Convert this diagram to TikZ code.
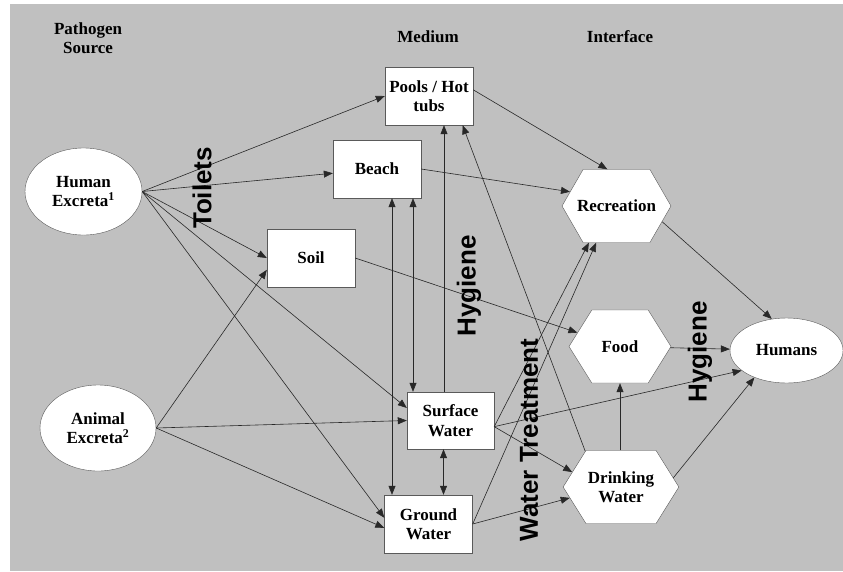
\documentclass[tikz,border=0pt]{standalone}
\usepackage{fontspec}
\setmainfont{Liberation Serif}
\newfontfamily\labelfont{Liberation Sans}
\usetikzlibrary{arrows.meta,shapes.geometric,shapes.symbols}
\definecolor{bggray}{RGB}{192,192,192}
\definecolor{linegray}{RGB}{40,40,40}
\definecolor{edgegray}{RGB}{90,90,90}

\begin{document}
\begin{tikzpicture}[x=1pt,y=-1pt,
  font=\fontsize{17}{19.5}\selectfont\bfseries,
  box/.style={draw=edgegray, fill=white, minimum width=88pt, minimum height=58pt, align=center, inner sep=2pt},
  blob/.style={draw=edgegray, fill=white, ellipse, minimum width=117pt, minimum height=87pt, align=center, inner sep=0pt},
  hexa/.style={draw=edgegray, fill=white, signal, signal to=east and west, signal pointer angle=116, minimum width=109pt, minimum height=73pt, align=center, inner sep=2pt},
  arr/.style={draw=linegray, line width=0.6pt, -{Triangle[length=9pt,width=7pt]}},
  darr/.style={arr, {Triangle[length=9pt,width=7pt]}-{Triangle[length=9pt,width=7pt]}},
  head/.style={align=center},
  lbl/.style={font=\labelfont\fontsize{26}{28}\selectfont\bfseries, rotate=90, inner sep=0pt}]

  \useasboundingbox (0,0) rectangle (843,571);
  \fill[bggray] (10,4) rectangle (843,571);

  % column heads
  \node[head] (srchd) at (88,38) {Pathogen\\Source};
  \node[head] (medhd) at (428,37) {Medium};
  \node[head] (inthd) at (620,37) {Interface};

  % sources
  \node[blob] (hex) at (83.5,191.5) {Human\\Excreta\textsuperscript{1}};
  \node[blob, minimum width=116pt, minimum height=86pt] (aex) at (98,428) {Animal\\Excreta\textsuperscript{2}};

  % media
  \node[box] (pools) at (429,96) {Pools / Hot\\tubs};
  \node[box] (beach) at (377,169) {Beach};
  \node[box] (soil) at (311,258) {Soil};
  \node[box, minimum width=87pt, minimum height=57pt] (sw) at (450.5,420.5) {Surface\\Water};
  \node[box] (gw) at (428.5,524) {Ground\\Water};

  % interfaces
  \node[hexa, signal pointer angle=120] (rec) at (616.5,206) {\makebox[62pt]{Recreation}};
  \node[hexa, minimum width=102pt] (food) at (620,346.5) {Food};
  \node[hexa] (dw) at (621,487) {Drinking\\Water};
  \node[blob, minimum width=113pt, minimum height=65pt] (hum) at (786.5,350.5) {Humans};

  % human excreta
  \draw[arr] (hex.east) -- (pools.west);
  \draw[arr] (hex.east) -- (beach);
  \draw[arr] (hex.east) -- (soil.west);
  \draw[arr] (hex.east) -- (sw.164);
  \draw[arr] (hex.east) -- (gw.172);
  % animal excreta
  \draw[arr] (aex.east) -- (soil.-165);
  \draw[arr] (aex.east) -- (sw.west);
  \draw[arr] (aex.east) -- (gw.-175);

  % between media
  \draw[darr] ([xshift=15pt]beach.south) -- ([xshift=15pt]beach.south |- gw.north);
  \draw[darr] ([xshift=36pt]beach.south) -- ([xshift=36pt]beach.south |- sw.north);
  \draw[darr] ([xshift=-7pt]sw.south) -- ([xshift=-7pt]sw.south |- gw.north);
  \draw[arr] ([xshift=-6.5pt]sw.north) -- ([xshift=-6.5pt]sw.north |- pools.south);

  % media to interfaces
  \draw[arr] (pools.8) -- (rec.104);
  \draw[arr] (beach.east) -- (rec.163);
  \draw[arr] (soil.east) -- (food.162);
  \draw[arr] (sw.-8) -- (rec.-127);
  \draw[arr] (gw.east) -- (rec.-119);
  \draw[arr] (sw.-8) -- (dw.163);
  \draw[arr] (gw.east) -- (dw.-168);
  \draw[arr] (dw.135) -- (pools.-41);
  \draw[arr] (food.south |- dw.north) -- (food.south);

  % to humans
  \draw[arr] (rec.-19) -- (hum.115);
  \draw[arr] (food) -- (hum);
  \draw[arr] (sw.-8) -- (hum.-156);
  \draw[arr] (dw.10) -- (hum.-140);

  % barriers
  \node[lbl] (toil) at (202,188) {Toilets};
  \node[lbl] (hyg1) at (469,286) {Hygiene};
  \node[lbl] (wtr) at (529,440) {Water Treatment};
  \node[lbl] (hyg2) at (700,352) {Hygiene};
\end{tikzpicture}
\end{document}
